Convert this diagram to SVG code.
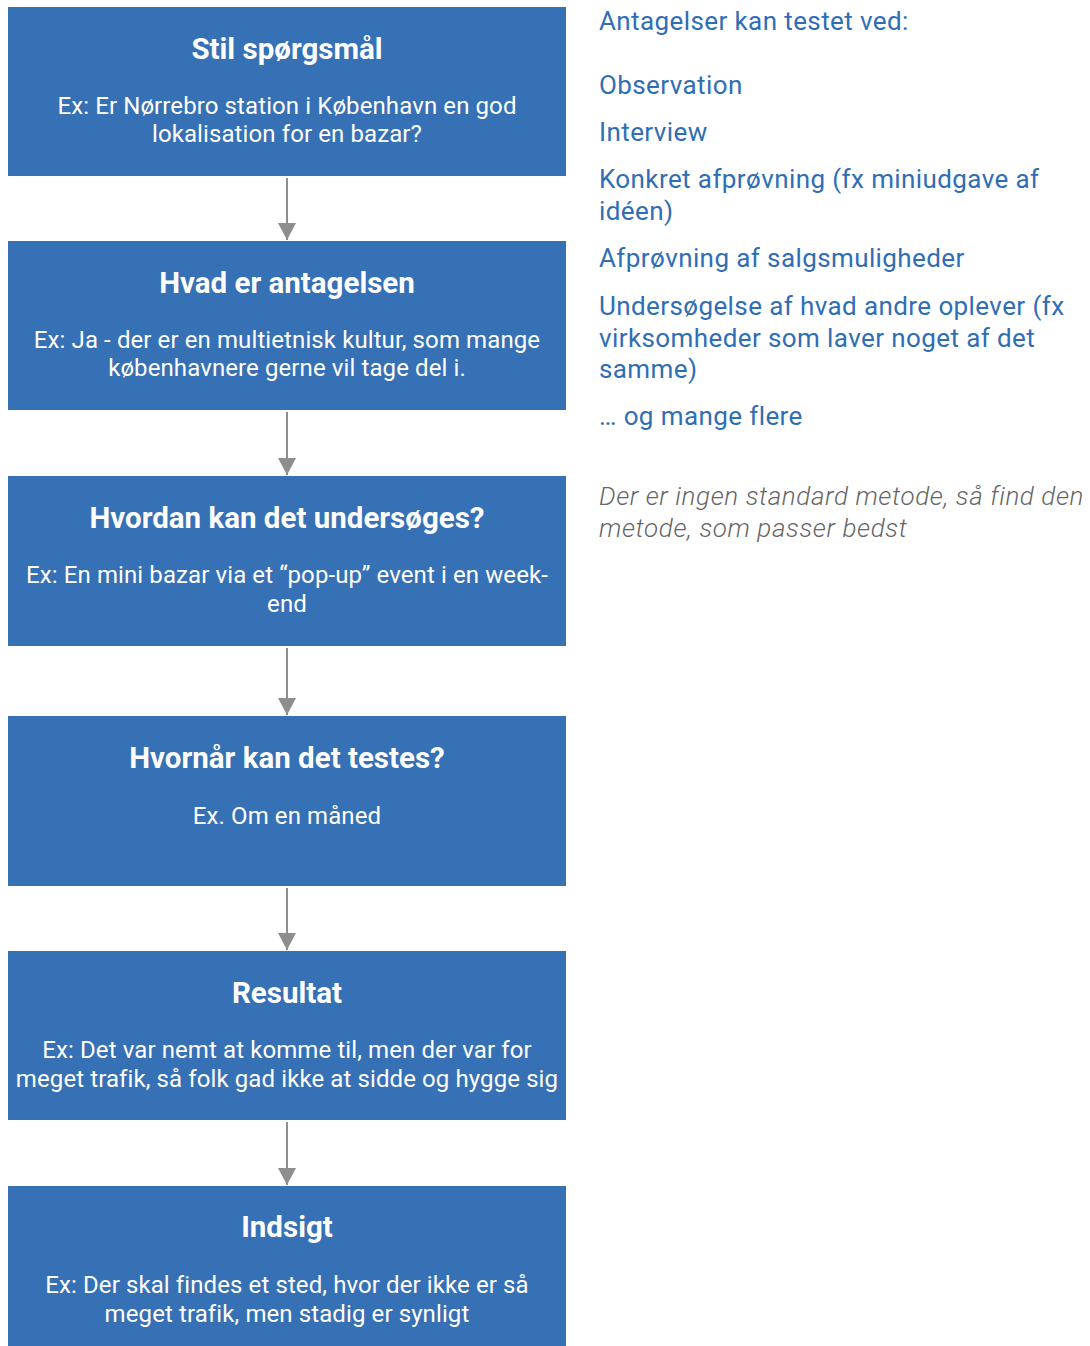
<svg xmlns="http://www.w3.org/2000/svg" width="1090" height="1346" viewBox="0 0 1090 1346">
  <style>
    .box { fill: #3670b5; }
    .title { font-family: Roboto, "Liberation Sans", sans-serif; font-weight: 700; font-size: 29.5px; fill: #ffffff; text-anchor: middle; }
    .body { font-family: Roboto, "Liberation Sans", sans-serif; font-weight: 400; font-size: 24px; letter-spacing: 0.1px; fill: #ffffff; text-anchor: middle; }
    .side { font-family: Roboto, "Liberation Sans", sans-serif; font-weight: 400; font-size: 26px; letter-spacing: 0.4px; fill: #2f6eb6; }
    .note { font-family: Roboto, "Liberation Sans", sans-serif; font-weight: 300; font-style: italic; font-size: 26px; letter-spacing: 0.6px; fill: #666666; }
    .link { stroke: #8e8e8e; stroke-width: 2; fill: none; }
  </style>
  <defs>
    <marker id="arrow" markerUnits="userSpaceOnUse" markerWidth="18" markerHeight="18" refX="17" refY="9" orient="auto">
      <path d="M0,0 L17,9 L0,18 Z" fill="#8e8e8e"/>
    </marker>
  </defs>
  <rect width="1090" height="1346" fill="#ffffff"/>

  <g id="connectors">
    <line class="link" x1="287" y1="178" x2="287" y2="240" marker-end="url(#arrow)"/>
    <line class="link" x1="287" y1="412" x2="287" y2="475" marker-end="url(#arrow)"/>
    <line class="link" x1="287" y1="648" x2="287" y2="715" marker-end="url(#arrow)"/>
    <line class="link" x1="287" y1="888" x2="287" y2="950" marker-end="url(#arrow)"/>
    <line class="link" x1="287" y1="1122" x2="287" y2="1185" marker-end="url(#arrow)"/>
  </g>

  <g id="stil-spoergsmaal">
    <rect class="box" x="8" y="7" width="558" height="169"/>
    <text class="title" x="287" y="59">Stil spørgsmål</text>
    <text class="body" x="287" y="114">Ex: Er Nørrebro station i København en god</text>
    <text class="body" x="287" y="142">lokalisation for en bazar?</text>
  </g>

  <g id="hvad-er-antagelsen">
    <rect class="box" x="8" y="241" width="558" height="169"/>
    <text class="title" x="287" y="293">Hvad er antagelsen</text>
    <text class="body" x="287" y="348">Ex: Ja - der er en multietnisk kultur, som mange</text>
    <text class="body" x="287" y="376">københavnere gerne vil tage del i.</text>
  </g>

  <g id="hvordan-undersoeges">
    <rect class="box" x="8" y="476" width="558" height="170"/>
    <text class="title" x="287" y="528">Hvordan kan det undersøges?</text>
    <text class="body" x="287" y="583">Ex: En mini bazar via et “pop-up” event i en week-</text>
    <text class="body" x="287" y="612">end</text>
  </g>

  <g id="hvornaar-testes">
    <rect class="box" x="8" y="716" width="558" height="170"/>
    <text class="title" x="287" y="768">Hvornår kan det testes?</text>
    <text class="body" x="287" y="824">Ex. Om en måned</text>
  </g>

  <g id="resultat">
    <rect class="box" x="8" y="951" width="558" height="169"/>
    <text class="title" x="287" y="1003">Resultat</text>
    <text class="body" x="287" y="1058">Ex: Det var nemt at komme til, men der var for</text>
    <text class="body" x="287" y="1087">meget trafik, så folk gad ikke at sidde og hygge sig</text>
  </g>

  <g id="indsigt">
    <rect class="box" x="8" y="1186" width="558" height="160"/>
    <text class="title" x="287" y="1237">Indsigt</text>
    <text class="body" x="287" y="1293">Ex: Der skal findes et sted, hvor der ikke er så</text>
    <text class="body" x="287" y="1322">meget trafik, men stadig er synligt</text>
  </g>

  <g id="metoder">
    <text class="side" x="599" y="30">Antagelser kan testet ved:</text>
    <text class="side" x="599" y="94">Observation</text>
    <text class="side" x="599" y="141">Interview</text>
    <text class="side" x="599" y="188">Konkret afprøvning (fx miniudgave af</text>
    <text class="side" x="599" y="220">idéen)</text>
    <text class="side" x="599" y="267">Afprøvning af salgsmuligheder</text>
    <text class="side" x="599" y="315">Undersøgelse af hvad andre oplever (fx</text>
    <text class="side" x="599" y="347">virksomheder som laver noget af det</text>
    <text class="side" x="599" y="378">samme)</text>
    <text class="side" x="599" y="425">… og mange flere</text>
  </g>

  <g id="note">
    <text class="note" x="599" y="505">Der er ingen standard metode, så find den</text>
    <text class="note" x="599" y="537">metode, som passer bedst</text>
  </g>
</svg>
